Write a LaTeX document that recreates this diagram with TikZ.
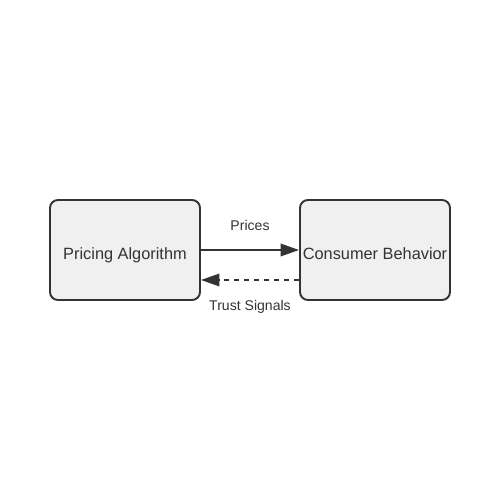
\documentclass[tikz,border=0pt]{standalone}
\usepackage{fontspec}
\setmainfont{Liberation Sans}
\usetikzlibrary{arrows.meta}
\definecolor{boxfill}{HTML}{F0F0F0}
\definecolor{ink}{HTML}{333333}
\begin{document}
\begin{tikzpicture}
	\useasboundingbox (0,0) rectangle (10,10);
	\begin{scope}[every node/.style={rectangle,rounded corners=0.16cm,draw=ink,line width=1.1pt,fill=boxfill,minimum width=3cm,minimum height=2cm,inner sep=0pt,text height=13pt,text depth=2pt,font=\fontsize{9.3}{11}\selectfont,text=ink}]
		\node (algo) at (2.5,5) {Pricing Algorithm};
		\node (consumer) at (7.5,5) {Consumer Behavior};
	\end{scope}
	
	\begin{scope}[every edge/.style={draw=ink,line width=1.1pt},>={Triangle[length=0.37cm,width=0.25cm]}]
		\path [->] (algo) edge node [above=0.26cm,font=\fontsize{8}{10}\selectfont,text=ink] {Prices} (consumer);
		\path [->,dash pattern=on 0.1cm off 0.1cm] ([yshift=-0.6cm]consumer.west) edge node [below=0.26cm,font=\fontsize{8}{10}\selectfont,text=ink] {Trust Signals} ([yshift=-0.6cm]algo.east);
	\end{scope}
\end{tikzpicture}
\end{document}
